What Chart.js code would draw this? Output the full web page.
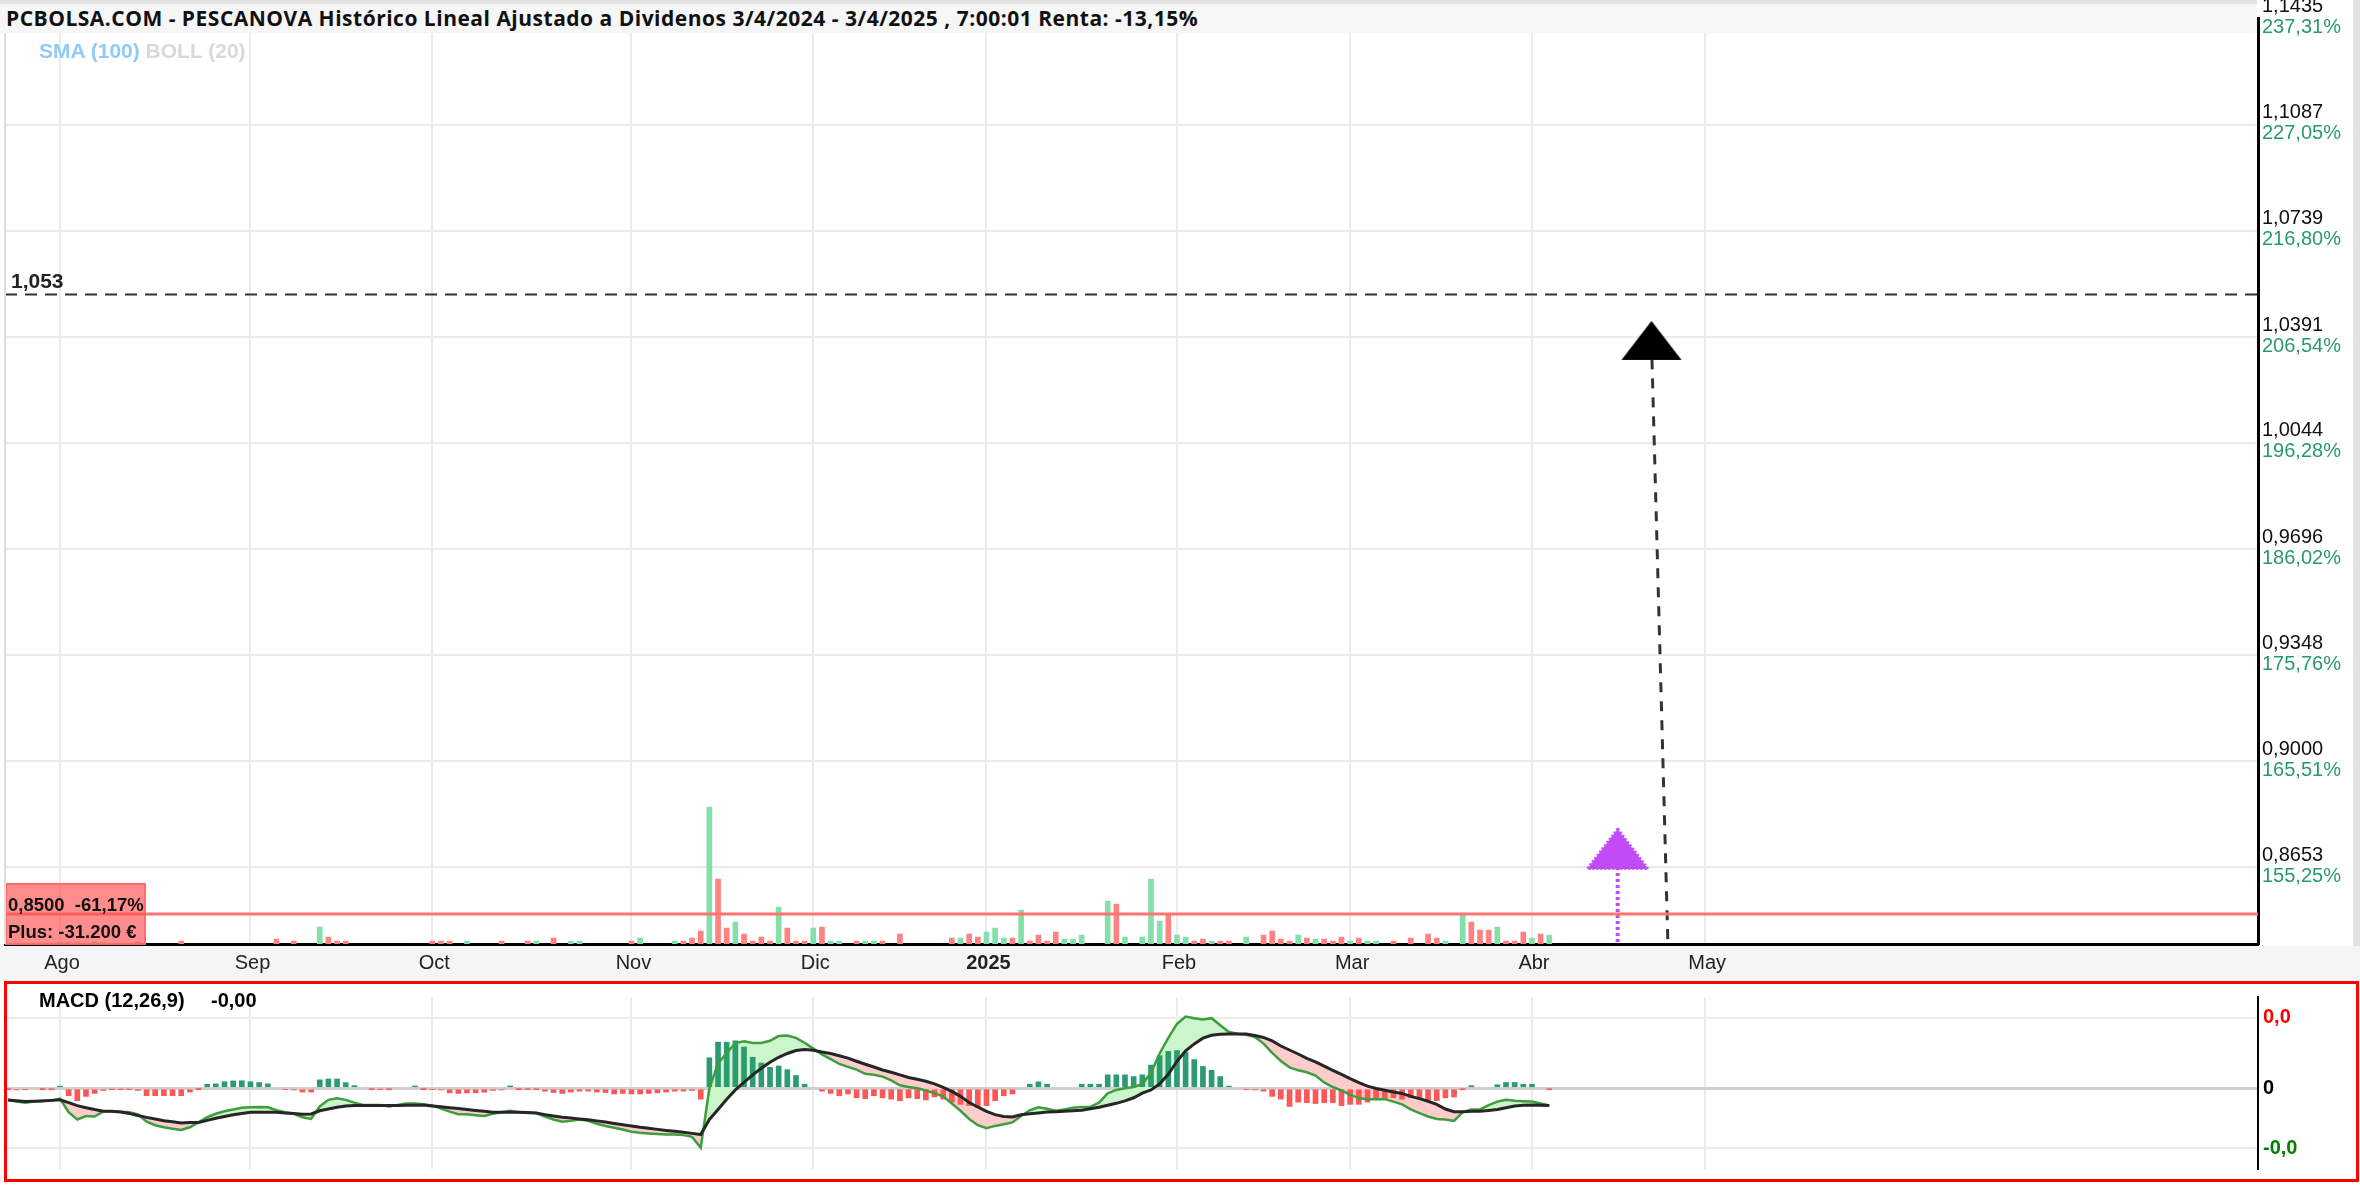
<!DOCTYPE html>
<html lang="es">
<head>
<meta charset="utf-8">
<title>PESCANOVA</title>
<script src="https://cdn.jsdelivr.net/npm/chart.js@4.4.1/dist/chart.umd.min.js"></script>
<style>
  html, body { margin: 0; padding: 0; background: #fff; }
  #wrap { position: relative; width: 2360px; height: 1186px; overflow: hidden; font-family: "Liberation Sans", Arial, sans-serif; }
  #wrap > * { position: absolute; }
  #xband { left: 0; top: 946px; width: 2360px; height: 35px; background: #f5f5f5; }
  #main { left: 0; top: 0; }
  #macd { left: 0; top: 980px; }
  #titlebar { left: 0; top: 0; width: 2257px; height: 33px; background: #f6f6f6; border-top: 4px solid #e3e3e3; box-sizing: border-box; }
  #title { left: 6px; top: 6px; font: bold 21px/24px "Open Sans", sans-serif; letter-spacing: 0.5px; color: #111; white-space: nowrap; }
  #ind { left: 39px; top: 40px; font: bold 21px/22px "Liberation Sans", Arial, sans-serif; white-space: nowrap; }
  #leftline { left: 4px; top: 33px; width: 2px; height: 911px; background: #dedede; }
  #rightstrip { left: 2353px; top: 0; width: 7px; height: 946px; background: #e2e2e2; }
  #macdbox { left: 4px; top: 981px; width: 2355px; height: 201px; border: 3px solid #ff0000; box-sizing: border-box; }
  .mt { top: 989px; font: bold 20px/22px "Liberation Sans", Arial, sans-serif; color: #000; white-space: nowrap; }
</style>
</head>
<body>
<div id="wrap">
  <div id="xband"></div>
  <canvas id="main" width="2360" height="980"></canvas>
  <canvas id="macd" width="2360" height="206"></canvas>
  <div id="titlebar"></div>
  <div id="title">PCBOLSA.COM - PESCANOVA Histórico Lineal Ajustado a Dividenos 3/4/2024 - 3/4/2025 , 7:00:01 Renta: -13,15%</div>
  <div id="ind"><span style="color:#8ecbf8">SMA (100)</span> <span style="color:#d9d9d9">BOLL (20)</span></div>
  <div id="leftline"></div>
  <div id="rightstrip"></div>
  <div id="macdbox"></div>
  <div class="mt" style="left:39px">MACD (12,26,9)</div>
  <div class="mt" style="left:211px">-0,00</div>
</div>
<script>
// sesiones: indice 0 = 24/7/2024, ultimo dato = 3/4/2025
const monthIdx = [6, 28, 49, 72, 93, 113, 135, 155, 176, 196];
const monthLabels = ['Ago', 'Sep', 'Oct', 'Nov', 'Dic', '2025', 'Feb', 'Mar', 'Abr', 'May'];

const priceTicks = [0.8653, 0.9000, 0.9348, 0.9696, 1.0044, 1.0391, 1.0739, 1.1087, 1.1435];
const priceLabels = ['0,8653', '0,9000', '0,9348', '0,9696', '1,0044', '1,0391', '1,0739', '1,1087', '1,1435'];
const pctLabels = ['155,25%', '165,51%', '175,76%', '186,02%', '196,28%', '206,54%', '216,80%', '227,05%', '237,31%'];

const supportLevel = 0.85;   // 0,8500  -61,17%
const targetLevel = 1.053;

// flechas: compra (morada) y objetivo (negra)
const arrowIdx = [185.9, 189.8];
const arrowPrice = [0.8713, 1.038];
const arrowFootIdx = [185.9, 191.7];

// volumen (miles de titulos) y lado de la vela: g sube, r baja
const volume = [
  0, 0, 0, 0, 0, 0, 2, 2, 2, 0,
  2, 2, 0, 0, 0, 2, 0, 0, 0, 0,
  3, 0, 0, 0, 0, 0, 0, 0, 0, 0,
  0, 5, 0, 3, 0, 0, 17, 7, 3, 3,
  0, 0, 0, 0, 0, 0, 0, 0, 0, 3,
  3, 3, 0, 3, 0, 0, 0, 3, 0, 0,
  3, 3, 0, 6, 0, 3, 3, 0, 0, 0,
  0, 0, 3, 6, 0, 0, 0, 3, 3, 6,
  13, 137, 65, 16, 22, 10, 3, 7, 3, 37,
  16, 3, 3, 16, 17, 3, 3, 0, 3, 3,
  3, 3, 0, 10, 0, 0, 0, 0, 0, 6,
  6, 10, 7, 12, 16, 6, 6, 34, 3, 9,
  3, 12, 5, 5, 9, 0, 0, 43, 40, 7,
  0, 7, 65, 23, 29, 9, 7, 3, 5, 3,
  3, 3, 0, 7, 0, 9, 13, 5, 3, 9,
  6, 5, 5, 3, 7, 3, 6, 3, 3, 0,
  3, 0, 6, 0, 10, 6, 3, 0, 31, 22,
  14, 14, 17, 3, 3, 12, 6, 10, 9
];
const volSide = [
  '......ggg.', 'gg...r....', 'r.........', '.r.r..grrr', '.........r',
  'rr.g...r..', 'rg.r.gg...', '..rg...grr', 'rgrrgrrrrg', 'rrrgrgg.rg',
  'gr.r.....r', 'grrgggrgrr', 'rrggg..grg', '.gggrggrrg', 'rr.g.rrrrg',
  'rgrrrgrgg.', 'r.r.rrg.gr', 'rrgrrrgrg'
].join('');

// MACD (12,26,9) en diezmilesimas
const macdLine = [
  -6.7, -7.7, -8.3, -7.7, -7.2, -7.2, -6.0, -13.8, -18.0, -16.0,
  -16.3, -13.3, -13.3, -13.5, -13.8, -15.0, -19.3, -21.3, -22.5, -23.3,
  -24.0, -22.5, -19.7, -16.7, -14.7, -13.3, -12.2, -11.3, -11.0, -10.8,
  -11.0, -12.7, -13.8, -14.7, -16.7, -17.7, -10.5, -6.7, -5.8, -6.7,
  -8.3, -9.7, -9.7, -9.7, -10.5, -9.7, -8.8, -8.8, -9.3, -10.0,
  -11.7, -13.5, -15.0, -15.0, -15.5, -16.0, -14.7, -13.8, -13.0, -13.8,
  -14.2, -14.3, -16.3, -18.0, -19.3, -18.8, -18.0, -18.8, -20.5, -21.7,
  -22.7, -23.8, -25.0, -25.7, -26.0, -26.3, -26.7, -26.7, -27.0, -28.0,
  -34.2, 0.0, 14.3, 20.3, 26.0, 27.0, 26.0, 26.0, 27.3, 30.0,
  30.3, 29.0, 26.2, 22.8, 19.5, 16.7, 14.0, 12.3, 10.7, 8.3,
  7.8, 6.7, 4.5, 1.7, 0.7, 0.0, -1.3, -3.0, -4.7, -8.8,
  -13.0, -17.7, -21.3, -23.0, -21.7, -20.7, -19.7, -16.0, -12.7, -11.0,
  -11.8, -13.0, -12.2, -11.3, -10.8, -10.7, -8.3, -3.0, -1.0, 0.0,
  0.7, 2.3, 9.0, 20.0, 29.0, 37.0, 41.2, 40.3, 39.5, 40.3,
  36.2, 32.3, 31.3, 30.7, 29.5, 25.7, 20.3, 15.7, 12.0, 10.3,
  9.2, 7.3, 3.3, 0.7, -1.3, -3.8, -5.7, -6.3, -6.3, -6.3,
  -7.7, -9.3, -12.2, -14.3, -16.3, -17.7, -18.0, -18.8, -13.8, -12.3,
  -12.2, -9.7, -7.7, -6.7, -7.2, -7.5, -7.7, -8.8, -10.0
];
const macdSignal = [
  -6.8, -7.2, -7.7, -7.5, -7.3, -7.0, -6.7, -8.3, -10.0, -11.2,
  -12.3, -13.2, -13.3, -13.7, -14.5, -15.7, -16.8, -17.7, -18.7, -19.3,
  -20.0, -19.8, -19.7, -18.5, -17.3, -16.3, -15.3, -14.5, -13.8, -13.8,
  -13.8, -13.8, -14.2, -14.5, -15.0, -14.8, -13.0, -12.0, -11.0, -10.2,
  -10.0, -10.0, -10.0, -10.0, -10.0, -10.0, -9.8, -9.8, -9.7, -10.2,
  -10.7, -11.2, -11.7, -12.3, -12.8, -13.2, -13.8, -13.8, -13.8, -13.8,
  -14.0, -14.3, -15.2, -16.0, -16.7, -17.2, -17.7, -18.2, -18.8, -19.5,
  -20.3, -21.0, -21.8, -22.5, -23.0, -23.7, -24.3, -24.8, -25.3, -26.0,
  -26.7, -18.0, -12.2, -6.3, -1.0, 3.3, 7.7, 11.5, 15.0, 17.8,
  20.0, 21.7, 22.3, 21.8, 20.8, 20.0, 18.7, 17.3, 15.5, 13.8,
  12.2, 10.5, 9.2, 7.7, 6.2, 5.2, 4.0, 2.5, 0.5, -1.8,
  -4.7, -8.2, -10.8, -13.3, -15.2, -16.3, -16.5, -15.3, -14.7, -14.2,
  -13.7, -13.5, -13.3, -13.0, -12.7, -11.8, -11.0, -9.8, -8.7, -7.3,
  -5.5, -2.8, -1.0, 2.5, 8.0, 15.5, 21.5, 25.5, 28.8, 30.5,
  31.0, 31.2, 31.2, 31.2, 30.3, 29.2, 27.2, 24.3, 22.0, 19.7,
  17.2, 15.2, 12.7, 10.3, 8.0, 5.5, 3.2, 1.2, -0.2, -1.2,
  -2.2, -3.0, -4.7, -6.0, -7.5, -9.3, -12.0, -13.5, -13.5, -13.3,
  -13.2, -12.8, -12.3, -11.3, -10.3, -9.8, -9.7, -9.8, -10.0
];
const macdHist = [
  -0.3, -1.0, -0.7, 0, -0.2, -0.3, 1.2, -4.3, -7.2, -4.7,
  -3.0, -1.3, -0.5, -0.5, -0.5, -1.3, -4.3, -4.3, -4.3, -4.3,
  -4.3, -2.2, -0.2, 2.3, 2.5, 3.7, 4.2, 4.3, 3.7, 3.3,
  2.5, 0, -0.7, -1.0, -2.2, -2.2, 4.8, 5.3, 5.3, 3.2,
  1.5, 0, -0.3, -0.5, -0.3, 0, 0, 1.3, -0.2, -0.7,
  -1.0, -2.7, -3.0, -2.7, -2.7, -2.3, -1.3, -1.0, 1.3, -0.2,
  -0.3, -0.3, -1.7, -2.5, -3.0, -2.2, -1.7, -1.7, -2.2, -2.5,
  -3.3, -3.0, -3.3, -3.3, -3.0, -2.7, -2.2, -1.7, -1.7, -1.3,
  -6.3, 17.5, 26.5, 26.5, 27.3, 23.7, 17.8, 14.5, 12.0, 12.8,
  10.7, 7.3, 2.3, 0, -1.7, -3.0, -4.3, -3.3, -5.5, -6.0,
  -4.3, -5.5, -6.3, -7.2, -5.5, -6.0, -6.7, -5.0, -6.3, -8.0,
  -9.3, -10.0, -11.0, -10.0, -7.2, -4.3, -3.3, 0, 2.3, 3.7,
  2.3, 0, 0, 0, 2.3, 2.3, 2.3, 7.7, 7.7, 7.7,
  6.7, 7.7, 13.3, 18.7, 21.2, 21.7, 20.7, 16.5, 12.5, 10.3,
  6.7, 1.2, 0, -0.7, -1.0, -1.7, -4.7, -6.3, -10.5, -8.0,
  -8.3, -8.8, -8.3, -8.3, -10.0, -9.3, -9.3, -8.0, -5.5, -6.3,
  -5.5, -6.3, -5.5, -6.0, -6.7, -7.2, -5.5, -5.0, -0.3, 1.5,
  0, 0, 2.0, 3.3, 3.3, 2.3, 2.3, 0, -0.3
];
const macdTicks = [40.5, 0, -34.5];
const macdTickLabels = ['0,0', '0', '-0,0'];

// rangos de los ejes
const xMin = -0.35, xMax = 259.85;
const priceMin = 0.84016, priceMax = 1.1435;
const volMax = 925.5;
const macdMin = -46.5, macdMax = 52.5;

const GRID = '#ebebeb';
const FONT = 'Liberation Sans';

function triangleImage(w, h, color, beaded) {
  const c = document.createElement('canvas');
  c.width = w; c.height = h;
  const g = c.getContext('2d');
  g.fillStyle = color;
  g.beginPath();
  g.moveTo(w / 2, 1); g.lineTo(w - 1, h - 1); g.lineTo(1, h - 1);
  g.closePath();
  g.fill();
  if (beaded) {
    g.strokeStyle = color; g.lineWidth = 3; g.setLineDash([2, 2]);
    g.stroke();
  }
  return c;
}
const purpleTri = triangleImage(63, 42, '#c14cf7', true);
const blackTri = triangleImage(62, 41, '#000', false);

const volData = [], volColors = [];
volume.forEach((v, i) => {
  if (v > 0) {
    volData.push({ x: i, y: v });
    volColors.push(volSide[i] === 'g' ? '#84e0aa' : '#ff8282');
  }
});

const monthTicks = s => { s.ticks = monthIdx.map(value => ({ value })); };

const mainOverlay = {
  id: 'mainOverlay',
  afterDatasetsDraw(chart) {
    const { ctx, chartArea: a } = chart;
    const y = chart.scales.y;
    ctx.save();
    const ys = y.getPixelForValue(supportLevel);
    ctx.strokeStyle = '#ff7373'; ctx.lineWidth = 3;
    ctx.beginPath(); ctx.moveTo(a.left, ys); ctx.lineTo(a.right, ys); ctx.stroke();
    const yt = y.getPixelForValue(targetLevel);
    ctx.strokeStyle = '#333'; ctx.lineWidth = 2; ctx.setLineDash([12, 8]);
    ctx.beginPath(); ctx.moveTo(a.left, yt); ctx.lineTo(a.right, yt); ctx.stroke();
    ctx.restore();
  },
  afterDraw(chart) {
    const { ctx, chartArea: a } = chart;
    const { x, y } = chart.scales;
    ctx.save();
    // meses
    ctx.textAlign = 'center'; ctx.textBaseline = 'middle';
    ctx.fillStyle = '#222';
    monthIdx.forEach((v, k) => {
      ctx.font = (monthLabels[k] === '2025' ? 'bold ' : '') + '20px "' + FONT + '"';
      ctx.fillText(monthLabels[k], x.getPixelForValue(v) + 2, a.bottom + 19);
    });
    // etiquetas del eje derecho
    ctx.font = '20px "' + FONT + '"';
    ctx.textAlign = 'left';
    priceTicks.forEach((v, k) => {
      const py = y.getPixelForValue(v);
      ctx.fillStyle = '#111';
      ctx.fillText(priceLabels[k], a.right + 4, py - 12);
      ctx.fillStyle = '#2a9a6c';
      ctx.fillText(pctLabels[k], a.right + 4, py + 9);
    });
    // nivel objetivo
    const yt = y.getPixelForValue(targetLevel);
    ctx.font = 'bold 21px "' + FONT + '"';
    ctx.fillStyle = '#222';
    ctx.fillText('1,053', a.left + 6, yt - 12);
    // caja del soporte
    const ys = y.getPixelForValue(supportLevel);
    ctx.fillStyle = 'rgba(255,80,80,0.65)';
    ctx.fillRect(a.left + 1, ys - 30, 139, 60);
    ctx.strokeStyle = '#ff6a6a'; ctx.lineWidth = 2;
    ctx.strokeRect(a.left + 1, ys - 30, 139, 60);
    ctx.fillStyle = '#111';
    ctx.font = 'bold 18.5px "' + FONT + '"';
    ctx.textBaseline = 'alphabetic';
    ctx.fillText('0,8500  -61,17%', a.left + 3, ys - 3);
    ctx.fillText('Plus: -31.200 €', a.left + 3, ys + 24);
    ctx.restore();
  }
};

new Chart(document.getElementById('main'), {
  data: {
    datasets: [
      {
        type: 'scatter',
        data: arrowIdx.map((x, k) => ({ x, y: arrowPrice[k] })),
        pointStyle: [purpleTri, blackTri],
        pointRadius: 20,
        order: 0
      },
      {
        type: 'line',
        data: [{ x: arrowIdx[0], y: arrowPrice[0] }, { x: arrowFootIdx[0], y: priceMin }],
        borderColor: '#c14cf7', borderWidth: 4, borderDash: [3, 3],
        pointRadius: 0, order: 1
      },
      {
        type: 'line',
        data: [{ x: arrowIdx[1], y: arrowPrice[1] }, { x: arrowFootIdx[1], y: priceMin }],
        borderColor: '#333', borderWidth: 3, borderDash: [10, 9],
        pointRadius: 0, order: 1
      },
      {
        type: 'bar',
        data: volData,
        yAxisID: 'yv',
        backgroundColor: volColors,
        barThickness: 5,
        order: 2
      }
    ]
  },
  options: {
    responsive: false,
    animation: false,
    devicePixelRatio: 1,
    layout: { autoPadding: false, padding: { left: 5, top: 18.5, right: 0, bottom: 0 } },
    plugins: { legend: { display: false }, tooltip: { enabled: false } },
    scales: {
      x: {
        type: 'linear', min: xMin, max: xMax, offset: false,
        afterBuildTicks: monthTicks,
        afterFit: s => { s.height = 36; },
        grid: { color: GRID, lineWidth: 2, drawTicks: false, offset: false },
        border: { display: true, color: '#000', width: 3 },
        ticks: { display: false }
      },
      y: {
        position: 'right', min: priceMin, max: priceMax,
        afterBuildTicks: s => { s.ticks = priceTicks.map(value => ({ value })); },
        afterFit: s => { s.width = 102; },
        grid: { color: GRID, lineWidth: 2, drawTicks: false },
        border: { display: true, color: '#000', width: 3 },
        ticks: { display: false }
      },
      yv: { display: false, min: 0, max: volMax }
    }
  },
  plugins: [mainOverlay]
});

new Chart(document.getElementById('macd'), {
  data: {
    datasets: [
      {
        type: 'bar',
        data: macdHist.map((y, x) => ({ x, y })).filter(p => p.y !== 0),
        backgroundColor: c => (c.raw && c.raw.y > 0) ? '#2b9b72' : '#ff5656',
        barThickness: 5,
        order: 2
      },
      {
        type: 'line',
        data: macdLine.map((y, x) => ({ x, y })),
        borderColor: '#3c9e3c', borderWidth: 2.5, pointRadius: 0, tension: 0,
        fill: { target: 2, above: '#ccf5cc', below: '#ffcccc' },
        order: 1
      },
      {
        type: 'line',
        data: macdSignal.map((y, x) => ({ x, y })),
        borderColor: '#262626', borderWidth: 3, pointRadius: 0, tension: 0,
        order: 0
      }
    ]
  },
  options: {
    responsive: false,
    animation: false,
    devicePixelRatio: 1,
    layout: { autoPadding: false, padding: { left: 5, top: 3, right: 0, bottom: 5 } },
    plugins: {
      legend: { display: false },
      tooltip: { enabled: false },
      filler: { drawTime: 'beforeDatasetsDraw' }
    },
    scales: {
      x: {
        type: 'linear', min: xMin, max: xMax, offset: false,
        afterBuildTicks: monthTicks,
        afterFit: s => { s.height = 0; },
        grid: { color: GRID, lineWidth: 2, drawTicks: false, offset: false },
        border: { display: false },
        ticks: { display: false }
      },
      y: {
        position: 'right', min: macdMin, max: macdMax,
        afterBuildTicks: s => { s.ticks = macdTicks.map(value => ({ value })); },
        afterFit: s => { s.width = 102; },
        grid: {
          color: c => c.tick.value === 0 ? '#cfcfcf' : '#ececec',
          lineWidth: c => c.tick.value === 0 ? 3 : 2,
          drawTicks: false
        },
        border: { display: true, color: '#000', width: 2 },
        ticks: {
          padding: 5,
          font: { family: FONT, size: 20, weight: 'bold' },
          color: c => c.tick.value > 0 ? '#ff0000' : (c.tick.value < 0 ? '#008000' : '#000'),
          callback: (v, i) => macdTickLabels[i]
        }
      }
    }
  }
});
</script>
</body>
</html>
